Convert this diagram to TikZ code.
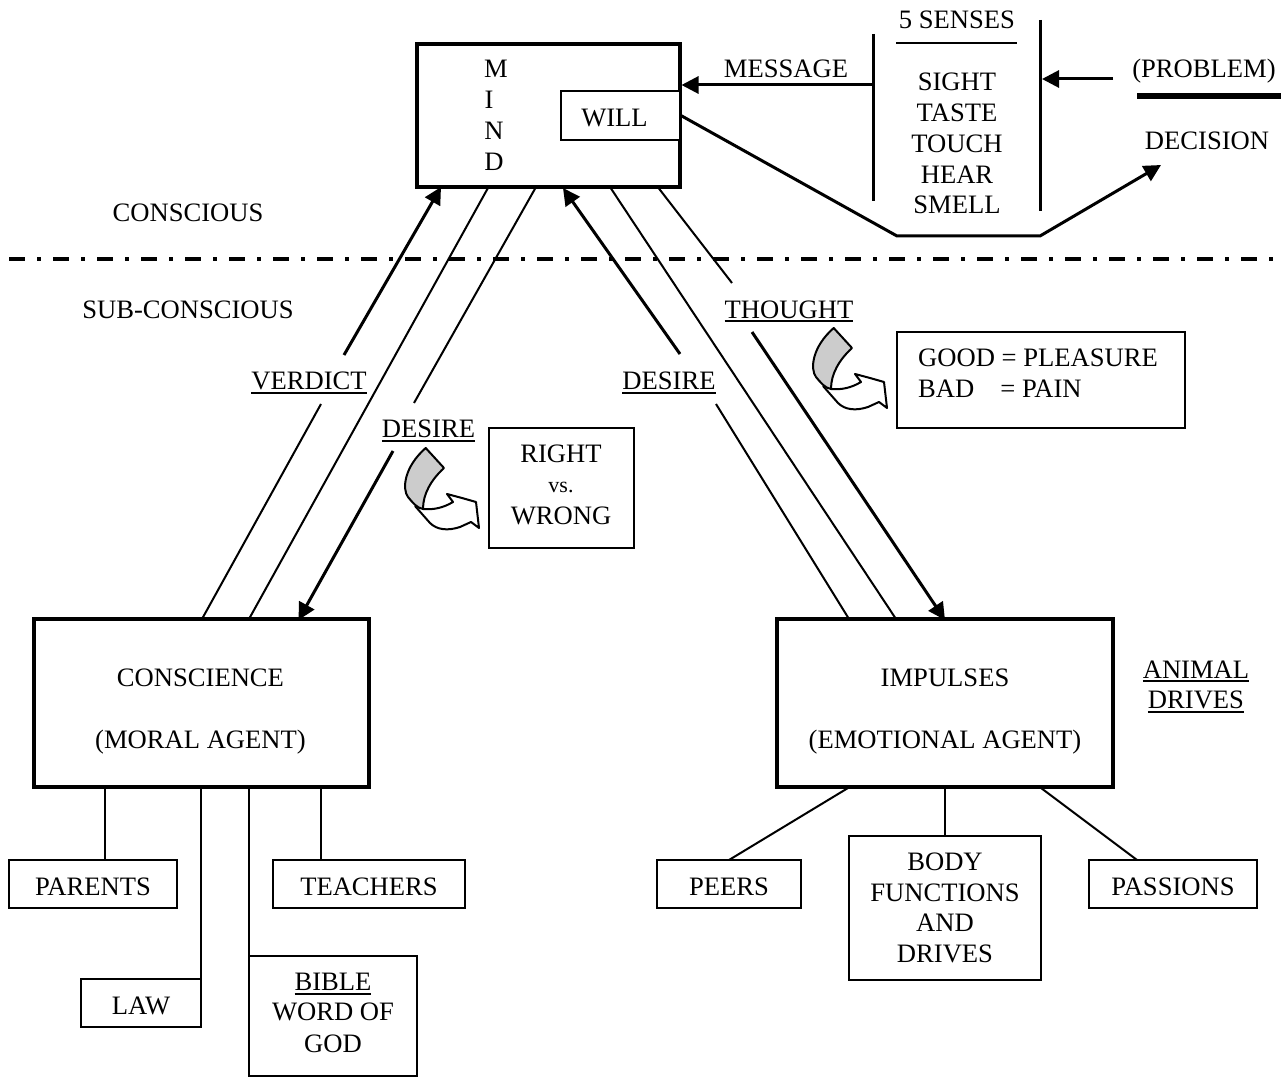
\documentclass[tikz,border=0pt]{standalone}
\usepackage{fontspec}
\setmainfont{Liberation Serif}
\usetikzlibrary{arrows.meta}
\newcommand{\ulx}[1]{\leavevmode\setbox0=\hbox{#1}\rlap{\copy0}\rule[-3.8pt]{\wd0}{2pt}}
\tikzset{
  lbl/.style={inner sep=0pt,font=\fontsize{26.6}{31}\selectfont,align=center,text height=17.5pt,text depth=0pt},
  boxlbl/.style={lbl,text height=23pt},
  thickbox/.style={draw=black,line width=4pt,fill=white,inner sep=0pt},
  thinbox/.style={draw=black,line width=2pt,fill=white,inner sep=0pt},
  thinline/.style={draw=black,line width=2pt},
  medline/.style={draw=black,line width=3pt},
  arrowline/.style={draw=black,line width=3pt,-{Triangle[length=17pt,width=17pt]}},
  curlgrey/.style={draw=black,line width=2pt,fill=black!20,line join=round},
  curlwhite/.style={draw=black,line width=2pt,fill=white,line join=round}
}
\newcommand{\curl}[2]{%
 \begin{scope}[shift={(#1,#2)}]
  \draw[curlwhite] (-8,-3) -- (7,14) .. controls (14,21) and (25,22) .. (37,18) -- (48,13) -- (56,19) -- (53,-7) -- (39,-11) -- (24,-15) -- (30,-7) .. controls (20,-1) and (10,1) .. (0,0);
  \draw[curlgrey] (2.7,-61) -- (21,-41) .. controls (8,-29) and (0,-15) .. (0,0) .. controls (-6,-1) and (-10,-6) .. (-15,-12) .. controls (-21,-20) and (-19,-42) .. (2.7,-61) -- cycle;
 \end{scope}}
\begin{document}
\begin{tikzpicture}[x=1pt,y=-1pt]
\useasboundingbox (0,0) rectangle (1286,1078);
\fill[white] (0,0) rectangle (1286,1078);

% boxes
\node[thickbox,minimum width=263pt,minimum height=143pt] (mind) at (548.5,115.5) {};
\node[thinbox,minimum width=119pt,minimum height=49pt] (will) at (620.5,115.5) {};
\node[lbl] (willt) at (614.5,117.3) {WILL};
\node[lbl] (m1) at (496,69) {M};
\node[lbl] (m2) at (489,100) {I};
\node[lbl] (m3) at (494,131) {N};
\node[lbl] (m4) at (494,162) {D};

\node[thickbox,minimum width=335pt,minimum height=168pt] (cons) at (201,703) {};
\node[lbl] (cons1) at (200.5,678) {CONSCIENCE};
\node[lbl] (cons2) at (200.5,740) {(MORAL AGENT)};
\node[thickbox,minimum width=336pt,minimum height=168pt] (imp) at (945,703) {};
\node[lbl] (imp1) at (945,678) {IMPULSES};
\node[lbl] (imp2) at (945,740) {(EMOTIONAL AGENT)};

\node[thinbox,minimum width=168pt,minimum height=48pt,boxlbl] (parents) at (93,884) {PARENTS};
\node[thinbox,minimum width=192pt,minimum height=48pt,boxlbl] (teachers) at (369,884) {TEACHERS};
\node[thinbox,minimum width=120pt,minimum height=48pt,boxlbl] (law) at (141,1003) {LAW};
\node[thinbox,minimum width=168pt,minimum height=120pt] (bible) at (333,1016) {};
\node[lbl] (bible1) at (333,982) {\ulx{BIBLE}};
\node[lbl] (bible2) at (333,1012) {WORD OF};
\node[lbl] (bible3) at (333,1044) {GOD};
\node[thinbox,minimum width=144pt,minimum height=48pt,boxlbl] (peers) at (729,884) {PEERS};
\node[thinbox,minimum width=192pt,minimum height=144pt] (body) at (945,908) {};
\node[lbl] (body1) at (945,862) {BODY};
\node[lbl] (body2) at (945,893) {FUNCTIONS};
\node[lbl] (body3) at (945,923) {AND};
\node[lbl] (body4) at (945,954) {DRIVES};
\node[thinbox,minimum width=168pt,minimum height=48pt,boxlbl] (passions) at (1173,884) {PASSIONS};

\node[thinbox,minimum width=145pt,minimum height=120pt] (right) at (561,488) {};
\node[lbl] (right1) at (561,454) {RIGHT};
\node[lbl,font=\fontsize{22}{31}\selectfont,text height=10pt] (right2) at (561,487) {vs.};
\node[lbl] (right3) at (561,516) {WRONG};
\node[thinbox,minimum width=288pt,minimum height=96pt] (good) at (1041,380) {};
\node[lbl,anchor=west] (goodt) at (918,358) {GOOD = PLEASURE};
\node[lbl,anchor=west] (badt) at (918,389) {BAD\hspace{26pt}= PAIN};

% labels
\node[lbl] (message) at (786,68.7) {MESSAGE};
\node[lbl] (senses) at (957,20) {5 SENSES};
\node[lbl] (sight) at (957,82) {SIGHT};
\node[lbl] (taste) at (957,113) {TASTE};
\node[lbl] (touch) at (957,143.4) {TOUCH};
\node[lbl] (hear) at (957,174.5) {HEAR};
\node[lbl] (smell) at (957,205) {SMELL};
\node[lbl] (problem) at (1204,69) {(PROBLEM)};
\node[lbl] (decision) at (1207,140.5) {DECISION};
\node[lbl] (conscious) at (188,212.5) {CONSCIOUS};
\node[lbl] (sub) at (188,309.5) {SUB-CONSCIOUS};
\node[lbl] (verdict) at (309,381) {\ulx{VERDICT}};
\node[lbl] (desirea) at (428.5,429) {\ulx{DESIRE}};
\node[lbl] (desireb) at (669,381) {\ulx{DESIRE}};
\node[lbl] (thought) at (789,309.5) {\ulx{THOUGHT}};
\node[lbl] (animal1) at (1196,669.5) {\ulx{ANIMAL}};
\node[lbl] (animal2) at (1196,700) {\ulx{DRIVES}};

% free ends
\coordinate (mb1) at (441,187);
\coordinate (mb2) at (488.5,187);
\coordinate (mb3) at (536,187);
\coordinate (mb4) at (563,188);
\coordinate (mb5) at (610,187);
\coordinate (mb6) at (657,186);
\coordinate (ct1) at (202,619);
\coordinate (ct2) at (249,619);
\coordinate (ct3) at (298.5,620);
\coordinate (it1) at (849,619);
\coordinate (it2) at (896,619);
\coordinate (it3) at (945,620);

% connectors
\draw[arrowline] (344,355) -- (mb1);
\draw[thinline] (ct1) -- (321,404);
\draw[thinline] (ct2) -- (mb2);
\draw[thinline] (414,403) -- (mb3);
\draw[arrowline] (393,451) -- (ct3);
\draw[arrowline] (680,354) -- (mb4);
\draw[thinline] (it1) -- (716,404);
\draw[thinline] (it2) -- (mb5);
\draw[thinline] (mb6) -- (732,283);
\draw[arrowline] (752,332) -- (it3);

% top right
\coordinate (bar1t) at (873,34);
\coordinate (bar1b) at (873,201);
\coordinate (bar2t) at (1040,20);
\coordinate (bar2b) at (1040,211);
\draw[medline] (bar1t) -- (bar1b);
\draw[medline] (bar2t) -- (bar2b);
\draw[thinline] (896,43) -- (1017,43);
\draw[arrowline] (873,85) -- (681.5,85);
\draw[arrowline] (1113,79) -- (1042,79);
\draw[line width=6pt] (1137,96.5) -- (1281,96.5);
\draw[line width=3pt,-{Triangle[length=17pt,width=17pt]},line join=miter] (680,115) -- (897,236) -- (1040,236) -- (1161,165);

% dash dot
\draw[line width=4pt,dash pattern=on 16pt off 12pt on 4pt off 12pt] (9,259.5) -- (1273,259.5);

% drop lines
\draw[thinline] (105,788) -- (105,860);
\draw[thinline] (321,788) -- (321,860);
\draw[thinline] (201,788) -- (201,979);
\draw[thinline] (249,788) -- (249,956);
\draw[thinline] (848,788) -- (729,860);
\draw[thinline] (945,788) -- (945,836);
\draw[thinline] (1041,788) -- (1137,860);

\curl{423}{509}
\curl{831}{389}
\end{tikzpicture}
\end{document}
